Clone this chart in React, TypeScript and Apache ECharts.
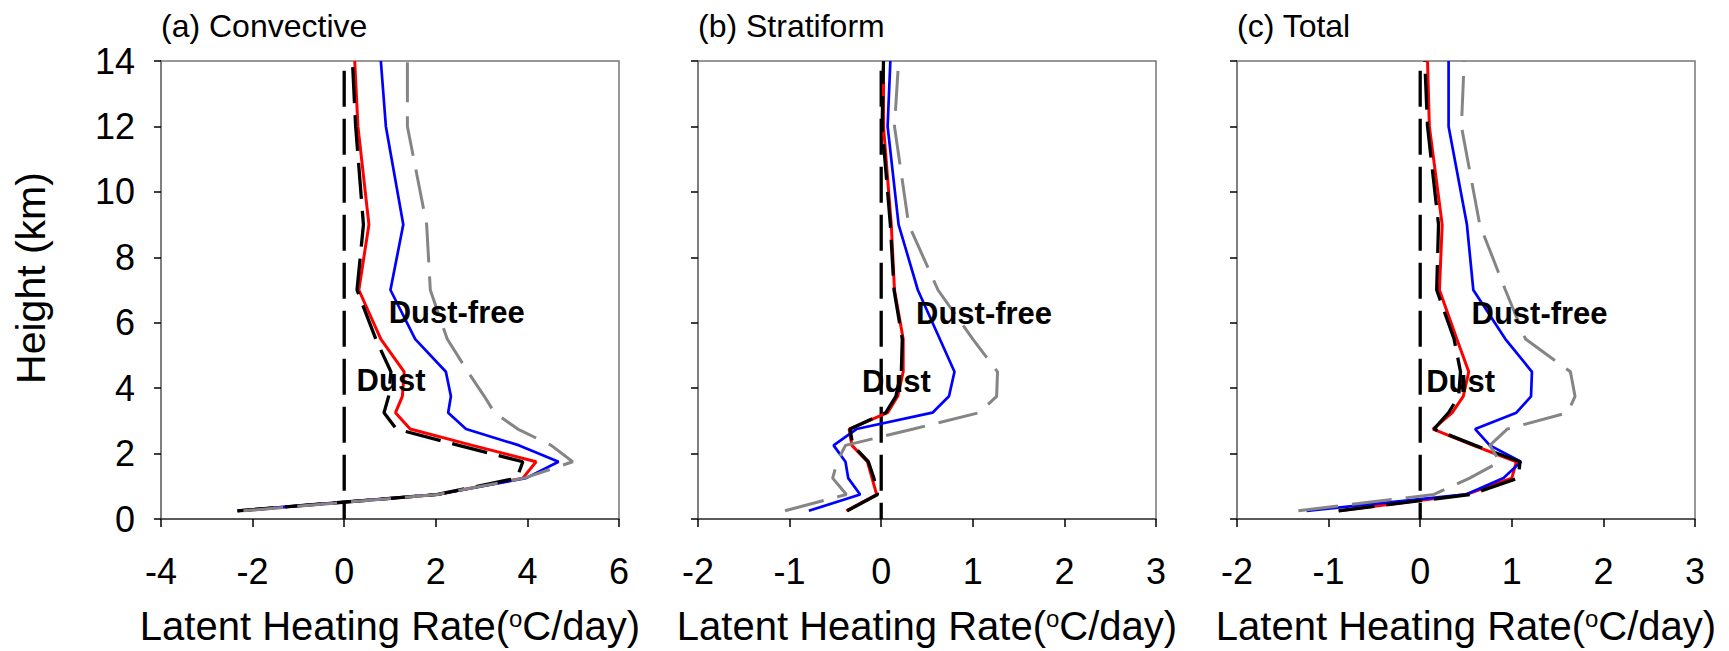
import React, { useEffect, useRef } from "react";
import * as echarts from "echarts";

// Height levels (km)
const heights = [0.25, 0.75, 1.25, 1.75, 2.25, 2.75, 3.25, 3.75, 4.5, 5.5, 7, 9, 12, 14];

// (a) Convective
const convDustSolid = [-2.33, 2.04, 3.9, 4.19, 2.8, 1.44, 1.12, 1.27, 1.31, 0.8, 0.32, 0.54, 0.3, 0.23];
const convFreeSolid = [-2.33, 2.04, 3.97, 4.68, 3.82, 2.66, 2.27, 2.33, 2.22, 1.55, 1.01, 1.29, 0.91, 0.8];
const convDustDash = [-2.33, 2.04, 3.77, 3.9, 2.5, 1.14, 0.87, 0.97, 1.02, 0.69, 0.28, 0.42, 0.25, 0.18];
const convFreeDash = [-2.2, 2.04, 3.93, 4.99, 4.52, 3.79, 3.28, 3.06, 2.7, 2.25, 1.88, 1.8, 1.38, 1.38];

// (b) Stratiform
const stratDustSolid = [-0.38, -0.05, -0.1, -0.15, -0.32, -0.35, 0.07, 0.18, 0.24, 0.24, 0.145, 0.11, 0.025, 0.025];
const stratFreeSolid = [-0.79, -0.23, -0.36, -0.39, -0.52, -0.27, 0.56, 0.74, 0.8, 0.64, 0.4, 0.19, 0.07, 0.1];
const stratDustDash = [-0.37, -0.04, -0.08, -0.14, -0.31, -0.34, 0.05, 0.16, 0.22, 0.23, 0.14, 0.1, 0.01, 0.025];
const stratFreeDash = [-1.05, -0.38, -0.53, -0.48, -0.39, 0.35, 1.07, 1.26, 1.27, 1.0, 0.62, 0.3, 0.145, 0.19];

// (c) Total
const totDustSolid = [-0.89, 0.5, 1.0, 1.05, 0.58, 0.14, 0.35, 0.47, 0.53, 0.4, 0.21, 0.24, 0.1, 0.08];
const totFreeSolid = [-1.24, 0.5, 0.91, 1.1, 0.76, 0.6, 1.05, 1.21, 1.22, 0.93, 0.58, 0.51, 0.31, 0.31];
const totDustDash = [-0.89, 0.55, 1.07, 1.09, 0.6, 0.15, 0.31, 0.42, 0.44, 0.37, 0.18, 0.2, 0.08, 0.05];
const totFreeDash = [-1.33, 0.15, 0.54, 0.87, 0.76, 0.95, 1.61, 1.69, 1.64, 1.15, 0.93, 0.65, 0.45, 0.48];

const panelTitles = ["(a) Convective", "(b) Stratiform", "(c) Total"];
const xMins = [-4, -2, -2];
const xMaxs = [6, 3, 3];
const xIntervals = [2, 1, 1];
const yTicks = [0, 14, 2]; // min, max, interval
const yTitle = "Height (km)";
const xTitle = "Latent Heating Rate({sup|o}C/day)";

// zero reference line (x = 0) top height
const zeroLineTop = 13.7;

// annotation anchors (data coordinates: left edge x, vertical centre height)
const dustFreeLabelPos = [[0.97, 6.31], [0.38, 6.28], [0.56, 6.28]];
const dustLabelPos = [[0.27, 4.22], [-0.21, 4.19], [0.065, 4.19]];

const panelData = [
  [convDustSolid, convFreeSolid, convDustDash, convFreeDash],
  [stratDustSolid, stratFreeSolid, stratDustDash, stratFreeDash],
  [totDustSolid, totFreeSolid, totDustDash, totFreeDash],
];

export default function App() {
  const ref = useRef<HTMLDivElement>(null);
  useEffect(() => {
    document.body.style.margin = "0";
    const chart = echarts.init(ref.current!, null, { renderer: "svg" });
    const FONT = "'Liberation Sans', Arial, Helvetica, sans-serif";
    const gridLefts = [161, 698, 1237];
    const GT = 61;
    const GS = 458;

    const styles = [
      { color: "#ff0000", width: 3, type: "solid" as any },
      { color: "#0000ff", width: 2.7, type: "solid" as any },
      { color: "#000000", width: 3.3, type: [36, 12] as any },
      { color: "#858585", width: 3, type: [40, 14] as any },
    ];

    const series: any[] = [];
    panelData.forEach((set, i) => {
      series.push({
        type: "line",
        xAxisIndex: i,
        yAxisIndex: i,
        data: [[0, zeroLineTop], [0, 0]],
        symbol: "none",
        silent: true,
        lineStyle: { color: "#000", width: 3.3, type: [36, 12] },
      });
      set.forEach((vals, k) => {
        series.push({
          type: "line",
          xAxisIndex: i,
          yAxisIndex: i,
          data: vals.map((v, j) => [v, heights[j]]),
          symbol: "none",
          silent: true,
          lineStyle: styles[k],
        });
      });
    });

    chart.setOption({
      animation: false,
      backgroundColor: "#fff",
      textStyle: { fontFamily: FONT },
      title: panelTitles.map((t, i) => ({
        text: t,
        left: gridLefts[i],
        top: 10,
        padding: 0,
        textStyle: { fontSize: 32, fontWeight: "normal", color: "#000", fontFamily: FONT },
      })),
      grid: gridLefts.map((l) => ({
        left: l,
        top: GT,
        width: GS,
        height: GS,
        show: true,
        borderColor: "#777",
        borderWidth: 1.5,
        containLabel: false,
      })),
      xAxis: gridLefts.map((_, i) => ({
        type: "value",
        gridIndex: i,
        min: xMins[i],
        max: xMaxs[i],
        interval: xIntervals[i],
        axisLine: { show: true, onZero: false, lineStyle: { color: "#444", width: 1.5 } },
        axisTick: { show: true, inside: false, length: 8, lineStyle: { color: "#000", width: 1.5 } },
        axisLabel: { fontSize: 36, color: "#000", margin: 34, fontFamily: FONT },
        splitLine: { show: false },
        name: xTitle,
        nameLocation: "middle",
        nameGap: 87,
        nameTextStyle: {
          fontSize: 40,
          color: "#000",
          fontFamily: FONT,
          rich: {
            sup: { fontSize: 24, verticalAlign: "top", lineHeight: 18, color: "#000", fontFamily: FONT },
          },
        },
      })),
      yAxis: gridLefts.map((_, i) => ({
        type: "value",
        gridIndex: i,
        min: yTicks[0],
        max: yTicks[1],
        interval: yTicks[2],
        axisLine: { show: true, onZero: false, lineStyle: { color: "#777", width: 1.5 } },
        axisTick: { show: true, inside: false, length: 7, lineStyle: { color: "#000", width: 1.5 } },
        axisLabel: { show: i === 0, fontSize: 36, color: "#000", margin: 26, fontFamily: FONT },
        splitLine: { show: false },
      })),
      series,
    });

    const graphics: any[] = [
      {
        type: "text",
        x: 31,
        y: 278,
        rotation: Math.PI / 2,
        silent: true,
        style: {
          text: yTitle,
          fontSize: 41,
          fontFamily: FONT,
          fill: "#000",
          align: "center",
          verticalAlign: "middle",
        },
      },
    ];
    panelData.forEach((_, i) => {
      const pf = chart.convertToPixel({ gridIndex: i }, dustFreeLabelPos[i]) as number[];
      const pd = chart.convertToPixel({ gridIndex: i }, dustLabelPos[i]) as number[];
      [
        { p: pf, t: "Dust-free" },
        { p: pd, t: "Dust" },
      ].forEach(({ p, t }) => {
        graphics.push({
          type: "text",
          x: p[0],
          y: p[1],
          z: 100,
          silent: true,
          style: {
            text: t,
            fontSize: 31,
            fontWeight: "bold",
            fontFamily: FONT,
            fill: "#000",
            align: "left",
            verticalAlign: "middle",
          },
        });
      });
    });
    chart.setOption({ graphic: graphics });

    return () => chart.dispose();
  }, []);
  return <div ref={ref} style={{ width: 1729, height: 651 }} />;
}
